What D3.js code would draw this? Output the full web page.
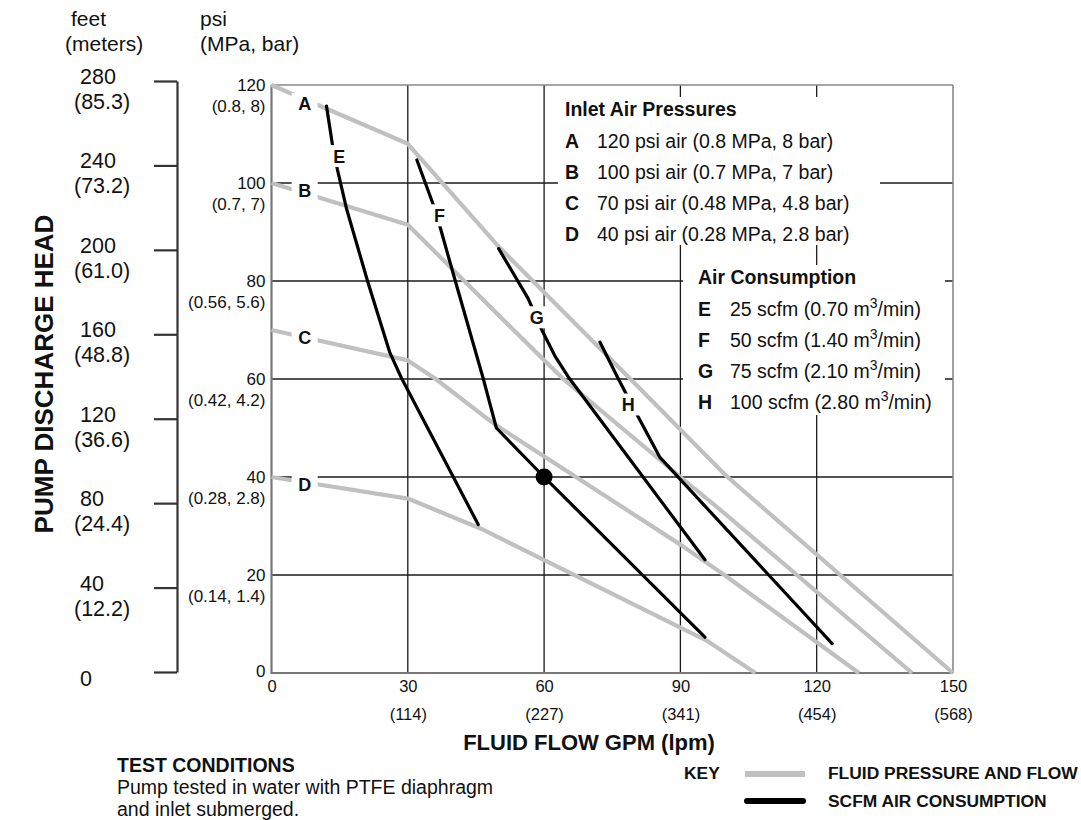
<!DOCTYPE html>
<html><head><meta charset="utf-8">
<script src="https://cdn.jsdelivr.net/npm/d3@7"></script>
<style>
body{margin:0;background:#fff}
svg{display:block}
text{font-family:"Liberation Sans",Arial,Helvetica,sans-serif;fill:#111}
</style>
</head><body>
<svg id="c" width="1081" height="820"></svg>
<script>
// ---------- data ----------
const gpmTicks = [0, 30, 60, 90, 120, 150];
const lpmLabels = ["", "(114)", "(227)", "(341)", "(454)", "(568)"];
const psiTicks = [0, 20, 40, 60, 80, 100, 120];
const mpaLabels = ["", "(0.14, 1.4)", "(0.28, 2.8)", "(0.42, 4.2)", "(0.56, 5.6)", "(0.7, 7)", "(0.8, 8)"];
const feetTicks = [0, 40, 80, 120, 160, 200, 240, 280];
const meterLabels = ["", "(12.2)", "(24.4)", "(36.6)", "(48.8)", "(61.0)", "(73.2)", "(85.3)"];
const gridGpm = [30, 60, 90, 120];
const gridPsi = [20, 40, 60, 80, 100];

// fluid pressure & flow curves (GPM, psi)
const curveA = [[0,120],[30,108],[50,87],[79,60],[100,40.3],[150,0]];
const curveB = [[0,100],[30,91.5],[50,73],[64,60.2],[90,40],[99.2,33],[141,0]];
const curveC = [[0,70],[30,63.8],[36,60.1],[49.2,50.7],[90,26.2],[100,19.8],[129.3,0]];
const curveD = [[0,40],[30,35.6],[46,29.5],[96,6.5],[106.5,0]];
// air consumption curves (GPM, psi)
const curveE = [[12.1,115.7],[13.5,107.3],[14.5,102.8],[16.5,94.8],[21.2,79.8],[26,65.5],[28.6,60.2],[45.5,30.3]];
const curveF = [[32,104.7],[35.8,95.1],[37.2,90.7],[40.3,80.5],[46.6,60.1],[49.5,50],[60,40],[95.4,7.3]];
const curveG = [[50,86.6],[56.5,76.4],[59.5,70],[62.5,64.5],[65.5,60.2],[95.4,23.1]];
const curveH = [[72.3,67.5],[76.3,60.1],[80.7,52.3],[85.5,44],[123.4,6]];
const pressureCurves = [curveA, curveB, curveC, curveD];
const airCurves = [curveE, curveF, curveG, curveH];
const markerPoint = [60, 40];

// in-chart curve labels (letter, GPM, psi)
const curveLabels = [["A",7.3,116.2],["B",7.3,98.5],["C",7.3,68.4],["D",7.3,38.4],
                     ["E",14.9,105.5],["F",37.0,93.4],["G",58.4,72.6],["H",78.5,54.8]];

const inletTitle = "Inlet Air Pressures";
const inletLetters = ["A","B","C","D"];
const inletTexts = ["120 psi air (0.8 MPa, 8 bar)","100 psi air (0.7 MPa, 7 bar)",
                    "70 psi air (0.48 MPa, 4.8 bar)","40 psi air (0.28 MPa, 2.8 bar)"];
const airTitle = "Air Consumption";
const airLetters = ["E","F","G","H"];
const airTexts = ["25 scfm (0.70 m","50 scfm (1.40 m","75 scfm (2.10 m","100 scfm (2.80 m"];

// ---------- drawing ----------
const svg = d3.select("#c");
svg.append("rect").attr("width",1081).attr("height",820).attr("fill","#fff");

const x = d3.scaleLinear().domain([0,150]).range([271.5,953]);
const y = d3.scaleLinear().domain([0,120]).range([673,85]);
const yFt = d3.scaleLinear().domain([0,280]).range([672,81]);

// grid
const grid = svg.append("g").attr("stroke","#1a1a1a").attr("stroke-width",1.3);
grid.selectAll("line.v").data(gridGpm).join("line").attr("class","v")
  .attr("x1",d=>x(d)).attr("x2",d=>x(d)).attr("y1",y(120)).attr("y2",y(0));
grid.selectAll("line.h").data(gridPsi).join("line").attr("class","h")
  .attr("x1",x(0)).attr("x2",x(150)).attr("y1",d=>y(d)).attr("y2",d=>y(d));

// frame
const frame = svg.append("g").attr("fill","none");
frame.append("line").attr("x1",x(0)).attr("x2",x(150)).attr("y1",y(120)).attr("y2",y(120)).attr("stroke","#888").attr("stroke-width",1.6);
frame.append("line").attr("x1",x(150)).attr("x2",x(150)).attr("y1",y(120)).attr("y2",y(0)).attr("stroke","#888").attr("stroke-width",1.6);
frame.append("line").attr("x1",x(0)).attr("x2",x(0)).attr("y1",y(120)).attr("y2",y(0)).attr("stroke","#777").attr("stroke-width",2.2);
frame.append("line").attr("x1",x(0)-1).attr("x2",x(150)).attr("y1",y(0)).attr("y2",y(0)).attr("stroke","#777").attr("stroke-width",2.2);

// legend background boxes
svg.append("rect").attr("x",558).attr("y",97).attr("width",322).attr("height",148).attr("fill","#fff");
svg.append("rect").attr("x",683).attr("y",265).attr("width",262).attr("height",150).attr("fill","#fff");

// x axis labels
const xAx = svg.append("g").attr("transform",`translate(0,${y(0)})`)
  .call(d3.axisBottom(x).tickValues(gpmTicks).tickSize(0).tickFormat(d3.format("d")));
xAx.select(".domain").remove();
xAx.selectAll("text").attr("font-size",16.5).attr("font-family",null).attr("fill","#111").attr("dy",null).attr("y",19);
const xAx2 = svg.append("g").attr("transform",`translate(0,${y(0)})`)
  .call(d3.axisBottom(x).tickValues(gpmTicks).tickSize(0).tickFormat((d,i)=>lpmLabels[i]));
xAx2.select(".domain").remove();
xAx2.selectAll("text").attr("font-size",16.5).attr("font-family",null).attr("fill","#111").attr("dy",null).attr("y",47);

svg.append("text").attr("x",589).attr("y",750).attr("text-anchor","middle")
  .attr("font-size",22).attr("font-weight","bold").text("FLUID FLOW GPM (lpm)");

// psi axis labels
const pAx = svg.append("g").attr("transform",`translate(${x(0)},0)`)
  .call(d3.axisLeft(y).tickValues(psiTicks).tickSize(0).tickPadding(6).tickFormat(d3.format("d")));
pAx.select(".domain").remove();
pAx.selectAll("text").attr("font-size",17).attr("font-family",null).attr("fill","#111").attr("dy",null).attr("y",d=>d===0?3:5);
const pAx2 = svg.append("g").attr("transform",`translate(${x(0)},0)`)
  .call(d3.axisLeft(y).tickValues(psiTicks).tickSize(0).tickPadding(6).tickFormat((d,i)=>mpaLabels[i]));
pAx2.select(".domain").remove();
pAx2.selectAll("text").attr("font-size",17).attr("font-family",null).attr("fill","#111").attr("dy",null).attr("y",26.5);

// feet axis
const fAx = svg.append("g").attr("transform","translate(177,0)")
  .call(d3.axisLeft(yFt).tickValues(feetTicks).tickSize(23).tickSizeOuter(0).tickFormat(d3.format("d")));
fAx.selectAll("path,line").attr("stroke","#333").attr("stroke-width",2.2);
fAx.selectAll("text").attr("font-size",21.5).attr("font-family",null).attr("fill","#111")
  .attr("text-anchor","start").attr("x",80-177).attr("dy",null).attr("y",d=>d===0?13.5:2.5);
const fAx2 = svg.append("g").attr("transform","translate(177,0)")
  .call(d3.axisLeft(yFt).tickValues(feetTicks).tickSize(0).tickFormat((d,i)=>meterLabels[i]));
fAx2.select(".domain").remove();
fAx2.selectAll("text").attr("font-size",21.5).attr("font-family",null).attr("fill","#111")
  .attr("text-anchor","start").attr("x",74-177).attr("dy",null).attr("y",27.5);

// axis unit headers
svg.append("text").attr("x",71).attr("y",26).attr("font-size",21).text("feet");
svg.append("text").attr("x",65).attr("y",51).attr("font-size",21).text("(meters)");
svg.append("text").attr("x",200).attr("y",26).attr("font-size",21).text("psi");
svg.append("text").attr("x",200).attr("y",51).attr("font-size",21).text("(MPa, bar)");

svg.append("text").attr("transform","translate(53,374) rotate(-90)").attr("text-anchor","middle")
  .attr("font-size",26).attr("font-weight","bold").text("PUMP DISCHARGE HEAD");

// curves
const line = d3.line().x(d=>x(d[0])).y(d=>y(d[1]));
svg.append("g").selectAll("path").data(pressureCurves).join("path")
  .attr("d",line).attr("fill","none").attr("stroke","#c0c0c0").attr("stroke-width",4.2)
  .attr("stroke-linejoin","round");
svg.append("g").selectAll("path").data(airCurves).join("path")
  .attr("d",line).attr("fill","none").attr("stroke","#000").attr("stroke-width",3.2)
  .attr("stroke-linejoin","round").attr("stroke-linecap","round");
svg.append("circle").attr("cx",x(markerPoint[0])).attr("cy",y(markerPoint[1])).attr("r",8.5).attr("fill","#000");

// curve labels
const lg = svg.append("g").selectAll("g").data(curveLabels).join("g")
  .attr("transform",d=>`translate(${x(d[1])},${y(d[2])})`);
lg.append("rect").attr("x",-13).attr("y",-11).attr("width",26).attr("height",22).attr("fill","#fff");
lg.append("text").attr("text-anchor","middle").attr("y",6.5).attr("font-size",18).attr("font-weight","bold").text(d=>d[0]);

// legend: inlet air pressures
svg.append("text").attr("x",565).attr("y",116).attr("font-size",19.5).attr("font-weight","bold").text(inletTitle);
const inRows = svg.append("g").selectAll("g").data(inletTexts).join("g")
  .attr("transform",(d,i)=>`translate(0,${148+i*31})`);
inRows.append("text").attr("x",565).attr("font-size",19.5).attr("font-weight","bold").text((d,i)=>inletLetters[i]);
inRows.append("text").attr("x",597).attr("font-size",19.5).text(d=>d);

// legend: air consumption
svg.append("text").attr("x",698).attr("y",284).attr("font-size",19.5).attr("font-weight","bold").text(airTitle);
const airRows = svg.append("g").selectAll("g").data(airTexts).join("g")
  .attr("transform",(d,i)=>`translate(0,${316+i*31})`);
airRows.append("text").attr("x",698).attr("font-size",19.5).attr("font-weight","bold").text((d,i)=>airLetters[i]);
const at = airRows.append("text").attr("x",730).attr("font-size",19.5);
at.append("tspan").text(d=>d);
at.append("tspan").attr("font-size",14).attr("dy",-8).text("3");
at.append("tspan").attr("dy",8).text("/min)");

// test conditions
svg.append("text").attr("x",117).attr("y",772).attr("font-size",19.5).attr("font-weight","bold").text("TEST CONDITIONS");
svg.append("text").attr("x",117).attr("y",794).attr("font-size",19.5).text("Pump tested in water with PTFE diaphragm");
svg.append("text").attr("x",117).attr("y",816).attr("font-size",19.5).text("and inlet submerged.");

// key
svg.append("text").attr("x",684).attr("y",779).attr("font-size",17.4).attr("font-weight","bold").text("KEY");
svg.append("line").attr("x1",745).attr("x2",805).attr("y1",774).attr("y2",774).attr("stroke","#c0c0c0").attr("stroke-width",6);
svg.append("line").attr("x1",747).attr("x2",803).attr("y1",801).attr("y2",801).attr("stroke","#000").attr("stroke-width",6).attr("stroke-linecap","round");
svg.append("text").attr("x",828).attr("y",779).attr("font-size",17.4).attr("font-weight","bold").text("FLUID PRESSURE AND FLOW");
svg.append("text").attr("x",828).attr("y",807).attr("font-size",17.4).attr("font-weight","bold").text("SCFM AIR CONSUMPTION");
</script>
</body></html>
